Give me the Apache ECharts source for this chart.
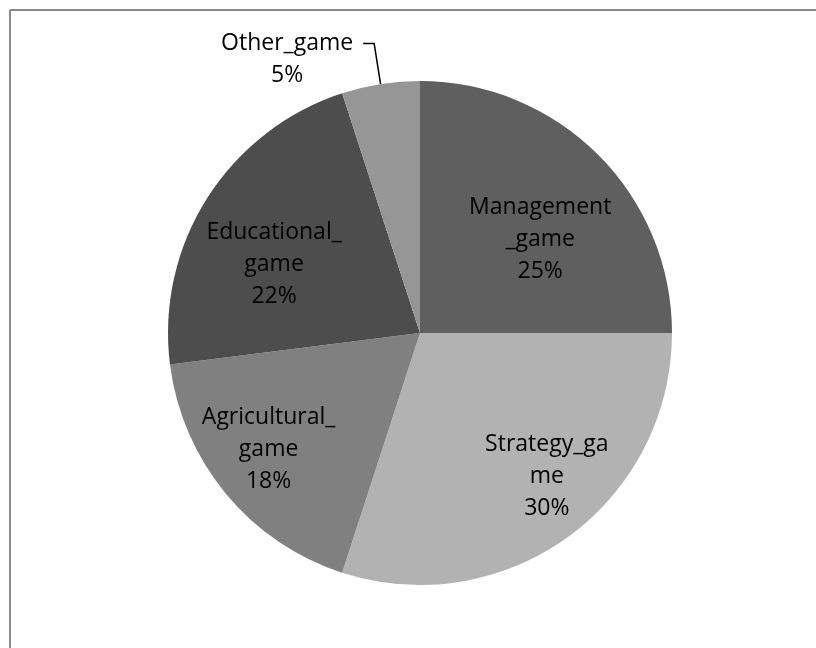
<!DOCTYPE html>
<html>
<head>
<meta charset="utf-8">
<style>
  html, body { margin: 0; padding: 0; background: #ffffff; }
  #chart { width: 816px; height: 648px; }
</style>
<script src="https://cdn.jsdelivr.net/npm/echarts@6/dist/echarts.min.js"></script>
</head>
<body>
<div id="chart"></div>
<script>
// Share of game types (percent), clockwise from 12 o'clock
const categories = ['Management_game', 'Strategy_game', 'Agricultural_game', 'Educational_game', 'Other_game'];
const shares = [25, 30, 18, 22, 5];
// Wrapped label text as it is shown on each slice
const labelNames = ['Management\n_game', 'Strategy_ga\nme', 'Agricultural_\ngame', 'Educational_\ngame', 'Other_game'];
const sliceColors = ['#5f5f5f', '#b2b2b2', '#808080', '#4d4d4d', '#969696'];

// Nudges from the default inside position of each label
const labelNudge = [[29, -2], [51, 39], [-52, 34], [-37, 1], [0, 0]];
const FONT = 'Open Sans';
const FONT_SIZE = 23;
const LINE_H = 32;

const chart = echarts.init(document.getElementById('chart'), null, { renderer: 'canvas' });

const data = categories.map((name, i) => {
  const item = {
    name: name,
    value: shares[i],
    itemStyle: { color: sliceColors[i] },
    label: {
      formatter: labelNames[i] + '\n' + shares[i] + '%'
    }
  };
  if (i === categories.length - 1) {
    item.label.position = 'outside';
    item.labelLine = { show: true, length: 41, length2: 11, smooth: false,
      lineStyle: { color: '#000000', width: 1.5 } };
  }
  return item;
});

chart.setOption({
  animation: false,
  backgroundColor: '#ffffff',
  graphic: [
    { type: 'line', shape: { x1: 10, y1: 10, x2: 816, y2: 10 }, style: { stroke: '#8a8a8a', lineWidth: 2 } },
    { type: 'line', shape: { x1: 10, y1: 10, x2: 10, y2: 648 }, style: { stroke: '#8a8a8a', lineWidth: 2 } }
  ],
  series: [{
    type: 'pie',
    center: [420, 333],
    radius: [0, 252],
    startAngle: 90,
    clockwise: true,
    avoidLabelOverlap: false,
    silent: true,
    itemStyle: { borderWidth: 0 },
    label: {
      show: true,
      position: 'inside',
      color: '#000000',
      fontFamily: FONT,
      fontSize: FONT_SIZE,
      lineHeight: LINE_H,
      align: 'center'
    },
    labelLine: { show: false },
    labelLayout: function (params) {
      const i = params.dataIndex;
      if (i === categories.length - 1 && params.labelLinePoints) {
        const pts = params.labelLinePoints;
        const end = pts[2];
        return {
          x: end[0] - 10 - params.labelRect.width / 2,
          y: end[1] - LINE_H / 2,
          align: 'center',
          verticalAlign: 'top',
          labelLinePoints: pts.map(p => [p[0], p[1]])
        };
      }
      return { dx: labelNudge[i][0], dy: labelNudge[i][1] };
    },
    data: data
  }]
});
</script>
</body>
</html>
